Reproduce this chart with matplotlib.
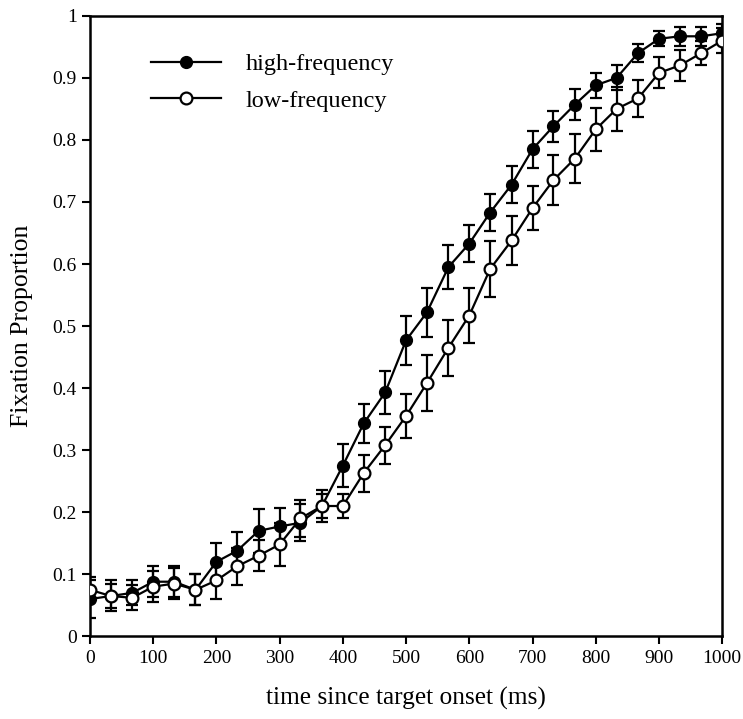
import matplotlib
matplotlib.use('Agg')
import matplotlib.pyplot as plt
from matplotlib.lines import Line2D
import numpy as np

# time bins (ms)
time_ms = [0, 33, 67, 100, 133, 167, 200, 233, 267, 300, 333, 367, 400, 433, 467,
           500, 533, 567, 600, 633, 667, 700, 733, 767, 800, 833, 867, 900, 933, 967, 1000]

high_freq = [0.060, 0.065, 0.070, 0.088, 0.088, 0.075, 0.120, 0.138, 0.170, 0.177, 0.183,
             0.210, 0.275, 0.343, 0.393, 0.477, 0.522, 0.595, 0.633, 0.683, 0.728,
             0.785, 0.822, 0.857, 0.888, 0.900, 0.940, 0.963, 0.967, 0.967, 0.972]
high_err = [0.030, 0.025, 0.020, 0.025, 0.025, 0.025, 0.030, 0.030, 0.035, 0.030, 0.030,
            0.020, 0.035, 0.032, 0.035, 0.040, 0.040, 0.035, 0.030, 0.030, 0.030,
            0.030, 0.025, 0.025, 0.020, 0.020, 0.015, 0.012, 0.015, 0.015, 0.015]

low_freq = [0.075, 0.065, 0.062, 0.080, 0.085, 0.075, 0.090, 0.113, 0.130, 0.148, 0.190,
            0.210, 0.210, 0.263, 0.308, 0.355, 0.408, 0.465, 0.517, 0.592, 0.638,
            0.690, 0.735, 0.770, 0.817, 0.850, 0.867, 0.908, 0.920, 0.940, 0.960]
low_err = [0.020, 0.020, 0.020, 0.025, 0.025, 0.025, 0.030, 0.030, 0.025, 0.035, 0.030,
           0.025, 0.020, 0.030, 0.030, 0.035, 0.045, 0.045, 0.045, 0.045, 0.040,
           0.035, 0.040, 0.040, 0.035, 0.035, 0.030, 0.025, 0.025, 0.020, 0.020]

plt.rcParams['font.family'] = ['Liberation Serif', 'DejaVu Serif']

fig = plt.figure(figsize=(7.43, 7.19), dpi=100)
ax = fig.add_axes([0.121, 0.115, 0.851, 0.863])

ax.errorbar(time_ms, high_freq, yerr=high_err, color='black', marker='o', markersize=8.5,
            markerfacecolor='black', markeredgecolor='black', linewidth=1.6,
            elinewidth=1.6, capsize=4, capthick=1.6, zorder=3)
ax.errorbar(time_ms, low_freq, yerr=low_err, color='black', marker='o', markersize=8.5,
            markerfacecolor='white', markeredgecolor='black', markeredgewidth=1.6,
            linewidth=1.6, elinewidth=1.6, capsize=4, capthick=1.6, zorder=4)

ax.set_xlim(0, 1000)
ax.set_ylim(0, 1)
ax.set_xticks(np.arange(0, 1001, 100))
ax.set_yticks(np.arange(0, 1.01, 0.1))
ax.set_yticklabels(['0', '0.1', '0.2', '0.3', '0.4', '0.5', '0.6', '0.7', '0.8', '0.9', '1'])
ax.tick_params(direction='out', length=6, width=1.5, labelsize=14)
for sp in ax.spines.values():
    sp.set_linewidth(1.8)

ax.set_xlabel('time since target onset (ms)', fontsize=18.3, labelpad=15)
ax.set_ylabel('Fixation Proportion', fontsize=18.5, labelpad=14)

handles = [
    Line2D([], [], color='black', linewidth=1.6, marker='o', markersize=8.5,
           markerfacecolor='black', markeredgecolor='black'),
    Line2D([], [], color='black', linewidth=1.6, marker='o', markersize=8.5,
           markerfacecolor='white', markeredgecolor='black', markeredgewidth=1.6),
]
ax.legend(handles, ['high-frequency', 'low-frequency'], loc='upper left',
          bbox_to_anchor=(0.062, 0.975), frameon=False, fontsize=17.5,
          handlelength=2.9, labelspacing=0.6, handletextpad=1.0)

fig.savefig('out.png', dpi=100)
